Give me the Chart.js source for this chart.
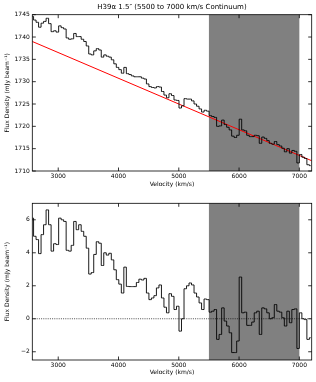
<!DOCTYPE html>
<html><head><meta charset="utf-8">
<script src="https://cdn.jsdelivr.net/npm/chart.js@4.4.0/dist/chart.umd.min.js"></script>
<style>
html,body{margin:0;padding:0;background:#fff;width:316px;height:382px;overflow:hidden}
canvas{position:absolute;left:0}
#c1{top:0}
#c2{top:190px}
</style></head><body>
<canvas id="c1" width="316" height="190"></canvas>
<canvas id="c2" width="316" height="192"></canvas>
<script>
const velocity = [2570,2612,2653,2695,2736,2778,2820,2861,2903,2944,2986,3028,3069,3111,3152,3194,3236,3277,3319,3360,3402,3444,3485,3527,3568,3610,3652,3693,3735,3776,3818,3860,3901,3943,3984,4026,4068,4109,4151,4192,4234,4276,4317,4359,4400,4442,4484,4525,4567,4608,4650,4692,4733,4775,4816,4858,4900,4941,4983,5024,5066,5108,5149,5191,5232,5274,5316,5357,5399,5440,5482,5524,5565,5607,5648,5690,5732,5773,5815,5856,5898,5940,5981,6023,6064,6106,6148,6189,6231,6272,6314,6356,6397,6439,6480,6522,6564,6605,6647,6688,6730,6772,6813,6855,6896,6938,6980,7021,7063,7104,7146,7188];
const fluxDensity = [1744.6,1743.8,1743.3,1742.2,1743.1,1743.5,1744.2,1743.0,1741.2,1741.4,
1741.1,1742.5,1742.1,1741.8,1739.8,1739.5,1739.6,1740.8,1740.1,1740.1,
1739.5,1739.0,1738.0,1736.2,1736.0,1736.9,1737.4,1737.1,1735.5,1736.0,
1735.7,1735.5,1734.9,1734.0,1733.2,1732.7,1731.9,1733.2,1731.8,1731.6,
1731.3,1731.1,1731.1,1731.1,1730.8,1730.6,1729.5,1728.9,1728.7,1728.6,
1728.9,1728.8,1727.8,1727.0,1726.4,1727.3,1726.9,1725.9,1725.8,1724.1,
1724.6,1726.2,1726.1,1726.1,1725.7,1725.0,1724.5,1723.9,1723.2,1723.6,
1723.4,1722.4,1722.2,1722.0,1720.0,1720.1,1721.4,1720.4,1719.8,1719.2,
1717.8,1717.5,1718.0,1721.6,1719.2,1719.0,1718.0,1717.7,1717.7,1718.0,
1717.9,1716.2,1717.6,1717.3,1716.8,1716.2,1716.0,1716.6,1715.9,1715.6,
1715.1,1714.3,1715.0,1714.0,1714.6,1714.4,1711.8,1713.7,1713.1,1712.8,
1711.4,1711.2];
const residual = [6.1,5.0,4.8,3.95,5.1,5.7,6.6,5.7,4.1,4.55,
4.5,6.1,6.0,5.9,4.15,4.1,4.45,5.9,5.4,5.7,
5.3,5.0,4.28,2.71,2.8,3.9,4.67,4.58,3.23,4.0,
3.86,3.97,3.57,2.97,2.37,2.1,1.56,3.13,1.96,1.95,
1.95,1.95,2.2,2.4,2.35,2.45,1.56,1.16,1.26,1.4,
1.87,2.05,1.26,0.7,0.36,1.52,1.36,0.56,0.76,-0.75,
0.0,1.82,2.0,2.17,2.05,1.56,1.32,0.96,0.56,1.2,
1.16,0.4,0.46,0.56,-1.25,-0.95,0.66,-0.14,-0.44,-0.85,
-2.05,-2.05,-1.35,2.53,0.36,0.4,-0.4,-0.4,-0.2,0.36,
0.46,-0.95,0.66,0.6,0.36,0.0,0.06,0.86,0.46,0.4,
0.06,-0.44,0.46,-0.24,0.56,0.6,-1.8,0.36,0.0,-0.05,
-1.25,-1.15];
const fitVelocity = [2570, 7205];
const fitFlux = [1739.0, 1712.3];
const zeroLevel = [0, 0];
const continuumWindow = [5500, 7000];
const xRange = [2570, 7205];
const yRangeTop = [1710, 1745];
const yRangeBottom = [-2.5, 7.0];
const xTicks = [3000, 4000, 5000, 6000, 7000];
const yTicksTop = [1710, 1715, 1720, 1725, 1730, 1735, 1740, 1745];
const yTicksBottom = [-2, 0, 2, 4, 6];
const titleText = 'H39\u03b1 1.5\u2033 (5500 to 7000 km/s Continuum)';
const xTitle = 'Velocity (km/s)';
const yTitle = 'Flux Density (mJy beam\u207b\u00b9)';

const FONT = 'DejaVu Sans';

const framePlugin = {
  id: 'frame',
  beforeDatasetsDraw(chart) {
    const {ctx, chartArea: ca, scales: {x}} = chart;
    const x0 = x.getPixelForValue(continuumWindow[0]);
    const x1 = x.getPixelForValue(continuumWindow[1]);
    ctx.save();
    ctx.fillStyle = '#808080';
    ctx.fillRect(x0, ca.top, x1 - x0, ca.bottom - ca.top);
    ctx.restore();
  },
  afterDatasetsDraw(chart) {
    const {ctx, chartArea: ca, scales: {x, y}} = chart;
    ctx.save();
    ctx.strokeStyle = '#000';
    ctx.lineWidth = 0.8;
    const L = 3.5;
    ctx.beginPath();
    x.ticks.forEach(t => {
      const px = x.getPixelForValue(t.value);
      ctx.moveTo(px, ca.bottom); ctx.lineTo(px, ca.bottom - L);
      ctx.moveTo(px, ca.top); ctx.lineTo(px, ca.top + L);
    });
    y.ticks.forEach(t => {
      const py = y.getPixelForValue(t.value);
      ctx.moveTo(ca.left, py); ctx.lineTo(ca.left + L, py);
      ctx.moveTo(ca.right, py); ctx.lineTo(ca.right - L, py);
    });
    ctx.stroke();
    ctx.strokeRect(ca.left, ca.top, ca.right - ca.left, ca.bottom - ca.top);
    ctx.restore();
  }
};

function fmt(v) { return v < 0 ? '\u2212' + Math.abs(v) : String(v); }

function makeScales(yr, yt, xHeight, xTitlePadBottom) {
  return {
    x: {
      type: 'linear', min: xRange[0], max: xRange[1],
      afterBuildTicks: s => { s.ticks = xTicks.map(v => ({value: v})); },
      afterFit: s => { s.height = xHeight; },
      grid: {display: false, drawTicks: false},
      border: {display: false},
      ticks: {font: {family: FONT, size: 6}, color: '#000', padding: 2, maxRotation: 0, callback: v => fmt(v)},
      title: {display: true, text: xTitle, font: {family: FONT, size: 6}, color: '#000', padding: {top: 0, bottom: xTitlePadBottom}}
    },
    y: {
      type: 'linear', min: yr[0], max: yr[1],
      afterBuildTicks: s => { s.ticks = yt.map(v => ({value: v})); },
      afterFit: s => { s.width = 32.3; },
      grid: {display: false, drawTicks: false},
      border: {display: false},
      ticks: {font: {family: FONT, size: 6}, color: '#000', padding: 2.5, callback: v => fmt(v)},
      title: {display: true, text: yTitle, font: {family: FONT, size: 6}, color: '#000', padding: {top: 4, bottom: 0}}
    }
  };
}

const stepStyle = {borderColor: '#000', borderWidth: 0.9, pointRadius: 0, stepped: 'middle', fill: false, tension: 0};

new Chart(document.getElementById('c1'), {
  type: 'line',
  data: {
    datasets: [
      Object.assign({data: velocity.map((v, i) => ({x: v, y: fluxDensity[i]}))}, stepStyle),
      {data: fitVelocity.map((v, i) => ({x: v, y: fitFlux[i]})), borderColor: '#ff0000', borderWidth: 1, pointRadius: 0, fill: false}
    ]
  },
  options: {
    responsive: false, animation: false, devicePixelRatio: 1,
    layout: {padding: {left: 0, right: 4.3, top: 0, bottom: 0}},
    plugins: {
      legend: {display: false}, tooltip: {enabled: false},
      title: {display: true, text: titleText, fullSize: false, color: '#000', font: {family: FONT, size: 7, weight: 'normal'}, padding: {top: 2.5, bottom: 3.8}}
    },
    scales: makeScales(yRangeTop, yTicksTop, 19, 2)
  },
  plugins: [framePlugin]
});

new Chart(document.getElementById('c2'), {
  type: 'line',
  data: {
    datasets: [
      {data: xRange.map((v, i) => ({x: v, y: zeroLevel[i]})), borderColor: '#000', borderWidth: 0.7, borderDash: [1, 1.2], pointRadius: 0, fill: false},
      Object.assign({data: velocity.map((v, i) => ({x: v, y: residual[i]}))}, stepStyle)
    ]
  },
  options: {
    responsive: false, animation: false, devicePixelRatio: 1,
    layout: {padding: {left: 0, right: 4.3, top: 13.3, bottom: 0}},
    plugins: {legend: {display: false}, tooltip: {enabled: false}, title: {display: false}},
    scales: makeScales(yRangeBottom, yTicksBottom, 22, 5.7)
  },
  plugins: [framePlugin]
});
</script>
</body></html>
